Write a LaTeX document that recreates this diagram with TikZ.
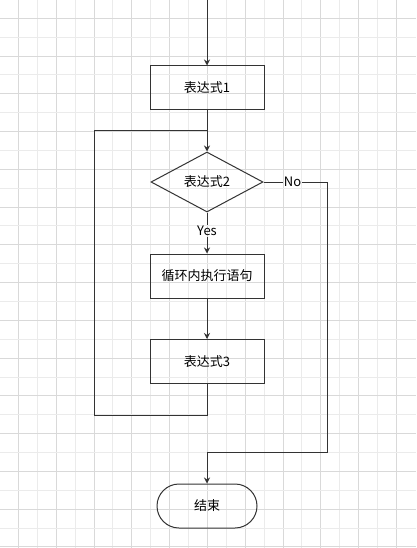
\documentclass[tikz,border=0pt]{standalone}
\usepackage{fontspec}
\setmainfont{Noto Sans CJK SC}
\usetikzlibrary{shapes.geometric,arrows.meta}
\definecolor{linec}{HTML}{333333}
\definecolor{gridD}{HTML}{D9D9D9}
\definecolor{gridL}{HTML}{EBEBEB}
\tikzset{
  box/.style={draw=linec, line width=1pt, minimum width=114pt, minimum height=44pt, inner sep=0pt},
  cond/.style={diamond, draw=linec, line width=1pt, minimum width=112pt, minimum height=60pt, aspect=1.87, inner sep=0pt},
  term/.style={draw=linec, line width=1pt, rounded corners=22pt, minimum width=100pt, minimum height=44pt, inner sep=0pt},
  lbl/.style={inner sep=1pt},
  flow/.style={draw=linec, line width=1pt}
}

\begin{document}
\begin{tikzpicture}[x=1pt, y=-1pt, font=\fontsize{13pt}{15pt}\selectfont, >={Stealth[length=6pt,width=6pt]}]
    \useasboundingbox (0,0) rectangle (416,548);
    \fill[white] (0,0) rectangle (416,548);
    % grid
    \foreach \k in {1,...,21} {
        \ifodd\k \def\gc{gridD}\else \def\gc{gridL}\fi
        \draw[\gc, line width=1pt] ({18.9*\k-0.5},0) -- ({18.9*\k-0.5},548);
    }
    \foreach \k in {1,...,29} {
        \ifodd\k \def\gc{gridD}\else \def\gc{gridL}\fi
        \draw[\gc, line width=1pt] (0,{18.88*\k-0.6}) -- (416,{18.88*\k-0.6});
    }

    % blocks
    \node[box] (e1) at (207,88) {表达式1};
    \node[cond] (e2) at (207,182) {表达式2};
    \node[box] (body) at (207,276) {循环内执行语句};
    \node[box] (e3) at (207,361.5) {表达式3};
    \node[term] (stop) at (207,506) {结束};
    % labels
    \node[lbl] (yes) at (207,231) {Yes};
    \node[lbl] (no) at (292.5,182) {No};

    \coordinate (start) at (207,0);
    \coordinate (nr) at (327,182);
    \coordinate (nb) at (327,452);
    \coordinate (nj) at (207,452);
    \coordinate (lb) at (207,415);
    \coordinate (ll) at (94,415);
    \coordinate (lt) at (94,131);
    \coordinate (lj) at (207,131);

    % main line
    \draw[flow,->] (start) -- (e1);
    \draw[flow,->] (e1) -- (e2);
    \draw[flow] (e2) -- (yes);
    \draw[flow,->] (yes) -- (body);
    \draw[flow,->] (body) -- (e3);
    % loop back
    \draw[flow] (e3) -- (lb) -- (ll) -- (lt) -- (lj);
    % exit
    \draw[flow] (e2.east) -- (no);
    \draw[flow,->] (no) -- (nr) -- (nb) -- (nj) -- (stop);
\end{tikzpicture}
\end{document}
